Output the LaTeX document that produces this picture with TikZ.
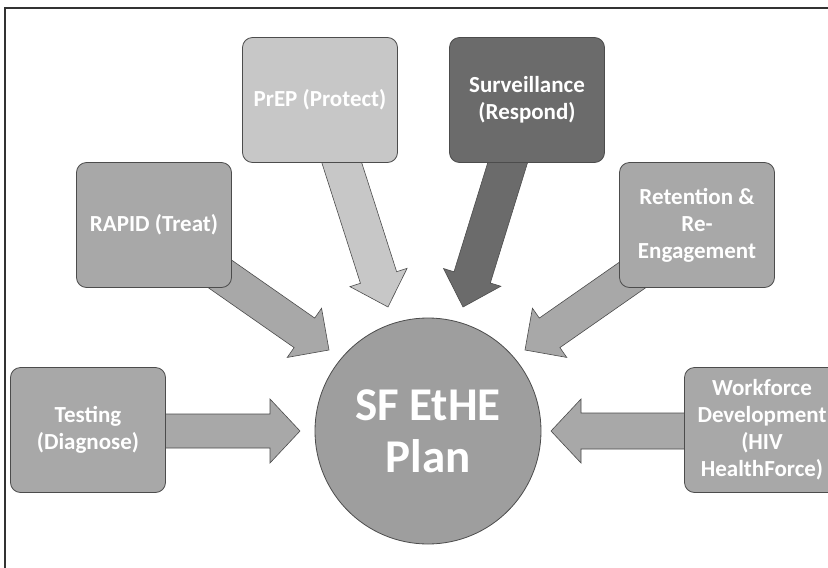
\documentclass[tikz,border=0pt]{standalone}
\usepackage{fontspec}
\setmainfont{Carlito}
\usetikzlibrary{calc}
\definecolor{lightg}{gray}{0.78}
\definecolor{midg}{gray}{0.66}
\definecolor{darkg}{gray}{0.42}
\definecolor{circg}{gray}{0.62}
\definecolor{edgeg}{gray}{0.30}
% #1 style, #2 start, #3 tip, #4 half body width, #5 half head width, #6 head length
\newcommand\blockarrow[6]{%
  \path ($(#3)!#6!(#2)$) coordinate (hb);
  \filldraw[#1] ($(#2)!#4!90:(#3)$)
    -- ($(hb)!#4!-90:(#2)$)
    -- ($(hb)!#5!-90:(#2)$)
    -- (#3)
    -- ($(hb)!#5!90:(#2)$)
    -- ($(hb)!#4!90:(#2)$)
    -- ($(#2)!#4!-90:(#3)$) -- cycle;
}
\begin{document}
\begin{tikzpicture}[x=1pt,y=-1pt,
  box/.style={draw=edgeg, line width=0.8pt, rounded corners=10pt,
    minimum width=155pt, minimum height=125pt, inner sep=0pt,
    text=white, align=center,
    font=\fontsize{23}{27}\selectfont\bfseries},
  plan/.style={circle, draw=edgeg, line width=0.8pt, fill=circg,
    minimum size=226pt, inner sep=0pt, text=white, align=center,
    font=\fontsize{47}{52}\selectfont\bfseries},
  arr/.style={draw=edgeg, line width=0.6pt, line join=miter}
]
\useasboundingbox (0,0) rectangle (828,568);
\clip (0,0) rectangle (828,568);

% frame
\draw[line width=2pt, black!80] (5,568) -- (5,8) -- (828,8);

% arrow end points
\coordinate (prepS) at (330,126);   \coordinate (prepT) at (388,307);
\coordinate (survS) at (519,126);   \coordinate (survT) at (463,307);
\coordinate (rapS)  at (190,253);   \coordinate (rapT)  at (329,350);
\coordinate (retS)  at (664,253);   \coordinate (retT)  at (525,350);
\coordinate (testS) at (150,431);   \coordinate (testT) at (300,431);
\coordinate (workS) at (700,431);   \coordinate (workT) at (551,431);

% block arrows
\blockarrow{arr, fill=lightg}{prepS}{prepT}{19pt}{30pt}{31pt}
\blockarrow{arr, fill=darkg}{survS}{survT}{19pt}{30pt}{31pt}
\blockarrow{arr, fill=midg}{rapS}{rapT}{18pt}{30pt}{30pt}
\blockarrow{arr, fill=midg}{retS}{retT}{18pt}{30pt}{30pt}
\blockarrow{arr, fill=midg}{testS}{testT}{17pt}{32pt}{30pt}
\blockarrow{arr, fill=midg}{workS}{workT}{18pt}{32pt}{30pt}

% boxes
\node[box, fill=lightg] (prep) at (320,100) {PrEP (Protect)};
\node[box, fill=darkg]  (surv) at (527,100) {Surveillance\\(Respond)};
\node[box, fill=midg]   (rapid) at (154,225) {RAPID (Treat)};
\node[box, fill=midg]   (ret) at (697,225) {Retention \&\\Re-\\Engagement};
\node[box, fill=midg]   (test) at (88,430) {Testing\\(Diagnose)};
\node[box, fill=midg]   (work) at (762,430) {Workforce\\Development\\(HIV\\HealthForce)};

% centre
\node[plan] (sf) at (428,431) {SF EtHE\\Plan};
\end{tikzpicture}
\end{document}
